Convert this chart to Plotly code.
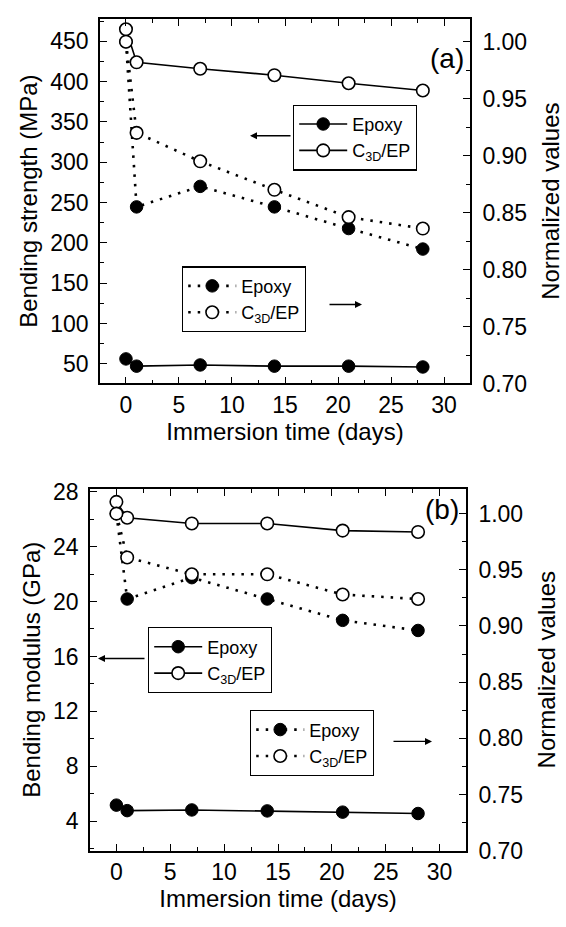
import plotly.graph_objects as go

# Immersion time (days)
days = [0, 1, 7, 14, 21, 28]

# (a) bending strength, MPa
strength_epoxy = [56, 47, 48.5, 47, 47, 46]
strength_c3d = [465, 424, 416, 408, 398, 389]
# (a) normalized strength
norm_strength_epoxy = [1.00, 0.855, 0.873, 0.855, 0.836, 0.818]
norm_strength_c3d = [1.00, 0.920, 0.895, 0.870, 0.846, 0.836]

# (b) bending modulus, GPa
modulus_epoxy = [5.18, 4.78, 4.83, 4.76, 4.67, 4.57]
modulus_c3d = [27.25, 26.1, 25.68, 25.68, 25.16, 25.06]
# (b) normalized modulus
norm_modulus_epoxy = [1.00, 0.924, 0.943, 0.924, 0.905, 0.896]
norm_modulus_c3d = [1.00, 0.961, 0.946, 0.946, 0.928, 0.924]

W, H = 566, 927
FONT = "Liberation Sans, Arial, sans-serif"
C3D_NAME = "C<sub>3D</sub>/EP"


def px_x(p):
    return p / W


def px_y(p):
    return 1 - p / H


fig = go.Figure()

filled = dict(symbol="circle", size=12.5, color="black", line=dict(color="black", width=1))
hollow = dict(symbol="circle", size=12.5, color="white", line=dict(color="black", width=1.6))
solid = dict(color="black", width=1.6)
dotted = dict(color="black", width=2.6, dash="2.5px,7px")


def add(x, y, xa, ya, name, marker, line, legend):
    fig.add_trace(go.Scatter(
        x=x, y=y, xaxis=xa, yaxis=ya, name=name, mode="lines+markers",
        marker=marker, line=line, legend=legend, cliponaxis=False,
    ))


# panel (a)
add(days, strength_epoxy, "x", "y", "Epoxy", filled, solid, "legend")
add(days, strength_c3d, "x", "y", C3D_NAME, hollow, solid, "legend")
add(days, norm_strength_epoxy, "x", "y2", "Epoxy", filled, dotted, "legend2")
add(days, norm_strength_c3d, "x", "y2", C3D_NAME, hollow, dotted, "legend2")

# panel (b)
add(days, modulus_epoxy, "x2", "y3", "Epoxy", filled, solid, "legend3")
add(days, modulus_c3d, "x2", "y3", C3D_NAME, hollow, solid, "legend3")
add(days, norm_modulus_epoxy, "x2", "y4", "Epoxy", filled, dotted, "legend4")
add(days, norm_modulus_c3d, "x2", "y4", C3D_NAME, hollow, dotted, "legend4")

tickfont = dict(family=FONT, size=23, color="black")
titlefont = dict(family=FONT, size=24, color="black")

common = dict(
    showline=True, linecolor="black", linewidth=1.6, ticks="inside",
    ticklen=7, tickwidth=1.4, tickcolor="black", showgrid=False,
    zeroline=False, tickfont=tickfont,
)

# plot-area boxes (pixels)
top_box = dict(l=100, r=470, t=9, b=383)
bot_box = dict(l=90, r=466, t=491, b=862)

xrange = [-2.45, 32.45]

fig.update_layout(
    width=W, height=H, autosize=False,
    margin=dict(l=0, r=0, t=0, b=0),
    paper_bgcolor="white", plot_bgcolor="white",
    font=dict(family=FONT, color="black"),
    xaxis=dict(
        **common, domain=[px_x(top_box["l"]), px_x(top_box["r"])], anchor="y",
        range=xrange, tickvals=[0, 5, 10, 15, 20, 25, 30], mirror="ticks",
        minor=dict(dtick=2.5, tick0=0, ticklen=4, ticks="inside", tickcolor="black"),
        title=dict(text="Immersion time (days)", font=titlefont, standoff=4),
    ),
    yaxis=dict(
        **common, domain=[px_y(top_box["b"]), px_y(top_box["t"])], anchor="x",
        range=[25.5, 478], tickvals=[50, 100, 150, 200, 250, 300, 350, 400, 450],
        minor=dict(dtick=25, tick0=0, ticklen=4, ticks="inside", tickcolor="black"),
        title=dict(text="Bending strength (MPa)", font=titlefont, standoff=6),
        ticklabelstandoff=5,
    ),
    yaxis2=dict(
        **common, overlaying="y", side="right", anchor="x",
        range=[0.70, 1.0201], tickvals=[0.70, 0.75, 0.80, 0.85, 0.90, 0.95, 1.00],
        tickformat=".2f",
        minor=dict(dtick=0.025, tick0=0.7, ticklen=4, ticks="inside", tickcolor="black"),
        title=dict(text="Normalized values", font=titlefont, standoff=16),
        ticklabelstandoff=6,
    ),
    xaxis2=dict(
        **common, domain=[px_x(bot_box["l"]), px_x(bot_box["r"])], anchor="y3",
        range=xrange, tickvals=[0, 5, 10, 15, 20, 25, 30], mirror="ticks",
        minor=dict(dtick=2.5, tick0=0, ticklen=4, ticks="inside", tickcolor="black"),
        title=dict(text="Immersion time (days)", font=titlefont, standoff=4),
    ),
    yaxis3=dict(
        **common, domain=[px_y(bot_box["b"]), px_y(bot_box["t"])], anchor="x2",
        range=[1.87, 28.2], tickvals=[4, 8, 12, 16, 20, 24, 28],
        minor=dict(dtick=2, tick0=0, ticklen=4, ticks="inside", tickcolor="black"),
        title=dict(text="Bending modulus (GPa)", font=titlefont, standoff=6),
        ticklabelstandoff=5,
    ),
    yaxis4=dict(
        **common, overlaying="y3", side="right", anchor="x2",
        range=[0.70, 1.0221], tickvals=[0.70, 0.75, 0.80, 0.85, 0.90, 0.95, 1.00],
        tickformat=".2f",
        minor=dict(dtick=0.025, tick0=0.7, ticklen=4, ticks="inside", tickcolor="black"),
        title=dict(text="Normalized values", font=titlefont, standoff=16),
        ticklabelstandoff=6,
    ),
)

legend_style = dict(
    bgcolor="white", bordercolor="black", borderwidth=1.2,
    font=dict(family=FONT, size=18, color="black"),
    xanchor="left", yanchor="top", xref="paper", yref="paper",
    itemclick=False, itemdoubleclick=False, tracegroupgap=0,
    itemwidth=48,
)
fig.update_layout(
    legend=dict(**legend_style, x=px_x(293), y=px_y(97)),
    legend2=dict(**legend_style, x=px_x(182), y=px_y(263)),
    legend3=dict(**legend_style, x=px_x(148), y=px_y(633)),
    legend4=dict(**legend_style, x=px_x(250), y=px_y(718)),
)

# arrows pointing from each legend to the axis it belongs to
def arrow(x_head, y_head, dx_tail):
    fig.add_annotation(
        x=px_x(x_head), y=px_y(y_head), xref="paper", yref="paper",
        ax=dx_tail, ay=0, showarrow=True, arrowhead=2, arrowsize=1,
        arrowwidth=1.4, arrowcolor="black", text="",
    )


arrow(250, 129, 42)
arrow(362, 302, -34)
arrow(98, 665, 48)
arrow(432, 750, -40)

# panel labels
fig.add_annotation(x=px_x(466), y=px_y(32), xref="paper", yref="paper",
                   text="(a)", showarrow=False, xanchor="right",
                   font=dict(family=FONT, size=28, color="black"))
fig.add_annotation(x=px_x(461), y=px_y(512), xref="paper", yref="paper",
                   text="(b)", showarrow=False, xanchor="right",
                   font=dict(family=FONT, size=28, color="black"))

fig.write_html("out.html")
